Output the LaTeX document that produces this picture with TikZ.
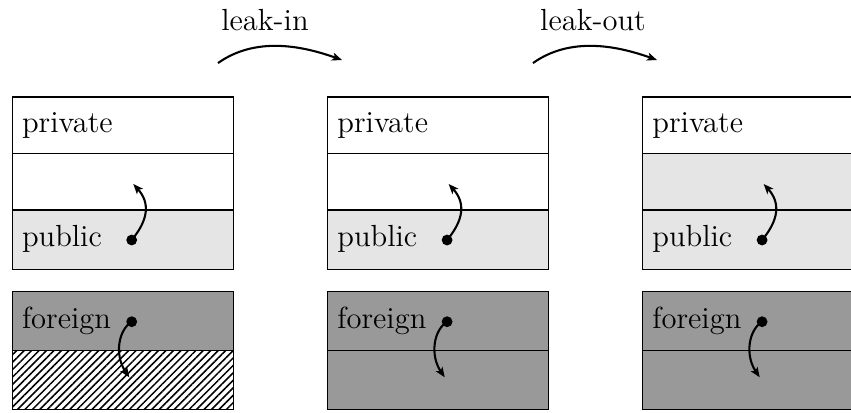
\documentclass[tikz,border=0pt]{standalone}
\usetikzlibrary{arrows.meta,patterns.meta}

\tikzset{
  cell/.style={draw, line width=0.45pt, anchor=north west, inner sep=0pt, outer sep=0pt,
    minimum width=79.56pt},
  tall/.style={minimum height=20.34pt},
  taller/.style={minimum height=21.42pt},
  low/.style={minimum height=21.24pt},
  white cell/.style={fill=white},
  pub cell/.style={fill=gray!20},
  for cell/.style={fill=gray!80},
  hatch cell/.style={fill=white, pattern={Lines[angle=45,distance=1.9pt,line width=0.55pt]}},
  txt/.style={anchor=base west, inner sep=0pt, font=\fontsize{11}{13}\selectfont},
  dot/.style={circle, fill=black, inner sep=0pt, minimum size=3.9pt},
  flow/.style={line width=0.75pt, -{Stealth[length=3.6pt,width=2.9pt,inset=0.9pt]}},
}

\begin{document}
\begin{tikzpicture}[x=0.36pt,y=-0.36pt]
\useasboundingbox (0,0) rectangle (851,412);

% ---- transition labels and arrows
\node[txt, anchor=base] (lin) at (265,30) {leak-in};
\node[txt, anchor=base] (lout) at (593,30) {leak-out};
\coordinate (lin-s) at (218,63);
\coordinate (lin-e) at (342,60);
\coordinate (lout-s) at (533,63);
\coordinate (lout-e) at (657,60);
\draw[flow] (lin-s) .. controls (255,37) and (300,45) .. (lin-e);
\draw[flow] (lout-s) .. controls (570,37) and (615,45) .. (lout-e);

% ---- column 1
\node[cell, tall, white cell]   (a1) at (12.3,97)    {};
\node[cell, tall, white cell]   (a2) at (12.3,153.5) {};
\node[cell, taller, pub cell]   (a3) at (12.3,210)   {};
\node[cell, low, for cell]      (a4) at (12.3,291.5) {};
\node[cell, low, hatch cell]    (a5) at (12.3,350.5) {};
\node[txt] (a1t) at (21.5,132)   {private};
\node[txt] (a3t) at (21.5,246.7) {public};
\node[txt] (a4t) at (21.5,328.3) {foreign};
\node[dot] (ap) at (131.7,240) {};
\coordinate (ap-e) at (133.3,184);
\draw[flow] (ap.center) .. controls (148.3,220) and (150.3,203) .. (ap-e);
\node[dot] (af) at (131.7,321.7) {};
\coordinate (af-e) at (129.3,377.3);
\draw[flow] (af.center) .. controls (118.3,330) and (114.3,355) .. (af-e);

% ---- column 2
\node[cell, tall, white cell]   (b1) at (327.7,97)    {};
\node[cell, tall, white cell]   (b2) at (327.7,153.5) {};
\node[cell, taller, pub cell]   (b3) at (327.7,210)   {};
\node[cell, low, for cell]      (b4) at (327.7,291.5) {};
\node[cell, low, for cell]      (b5) at (327.7,350.5) {};
\node[txt] (b1t) at (336.9,132)   {private};
\node[txt] (b3t) at (336.9,246.7) {public};
\node[txt] (b4t) at (336.9,328.3) {foreign};
\node[dot] (bp) at (447.1,240) {};
\coordinate (bp-e) at (448.7,184);
\draw[flow] (bp.center) .. controls (463.7,220) and (465.7,203) .. (bp-e);
\node[dot] (bf) at (447.1,321.7) {};
\coordinate (bf-e) at (444.7,377.3);
\draw[flow] (bf.center) .. controls (433.7,330) and (429.7,355) .. (bf-e);

% ---- column 3
\node[cell, tall, white cell]   (c1) at (642.7,97)    {};
\node[cell, tall, pub cell]     (c2) at (642.7,153.5) {};
\node[cell, taller, pub cell]   (c3) at (642.7,210)   {};
\node[cell, low, for cell]      (c4) at (642.7,291.5) {};
\node[cell, low, for cell]      (c5) at (642.7,350.5) {};
\node[txt] (c1t) at (651.9,132)   {private};
\node[txt] (c3t) at (651.9,246.7) {public};
\node[txt] (c4t) at (651.9,328.3) {foreign};
\node[dot] (cp) at (762.1,240) {};
\coordinate (cp-e) at (763.7,184);
\draw[flow] (cp.center) .. controls (778.7,220) and (780.7,203) .. (cp-e);
\node[dot] (cf) at (762.1,321.7) {};
\coordinate (cf-e) at (759.7,377.3);
\draw[flow] (cf.center) .. controls (748.7,330) and (744.7,355) .. (cf-e);
\end{tikzpicture}
\end{document}
